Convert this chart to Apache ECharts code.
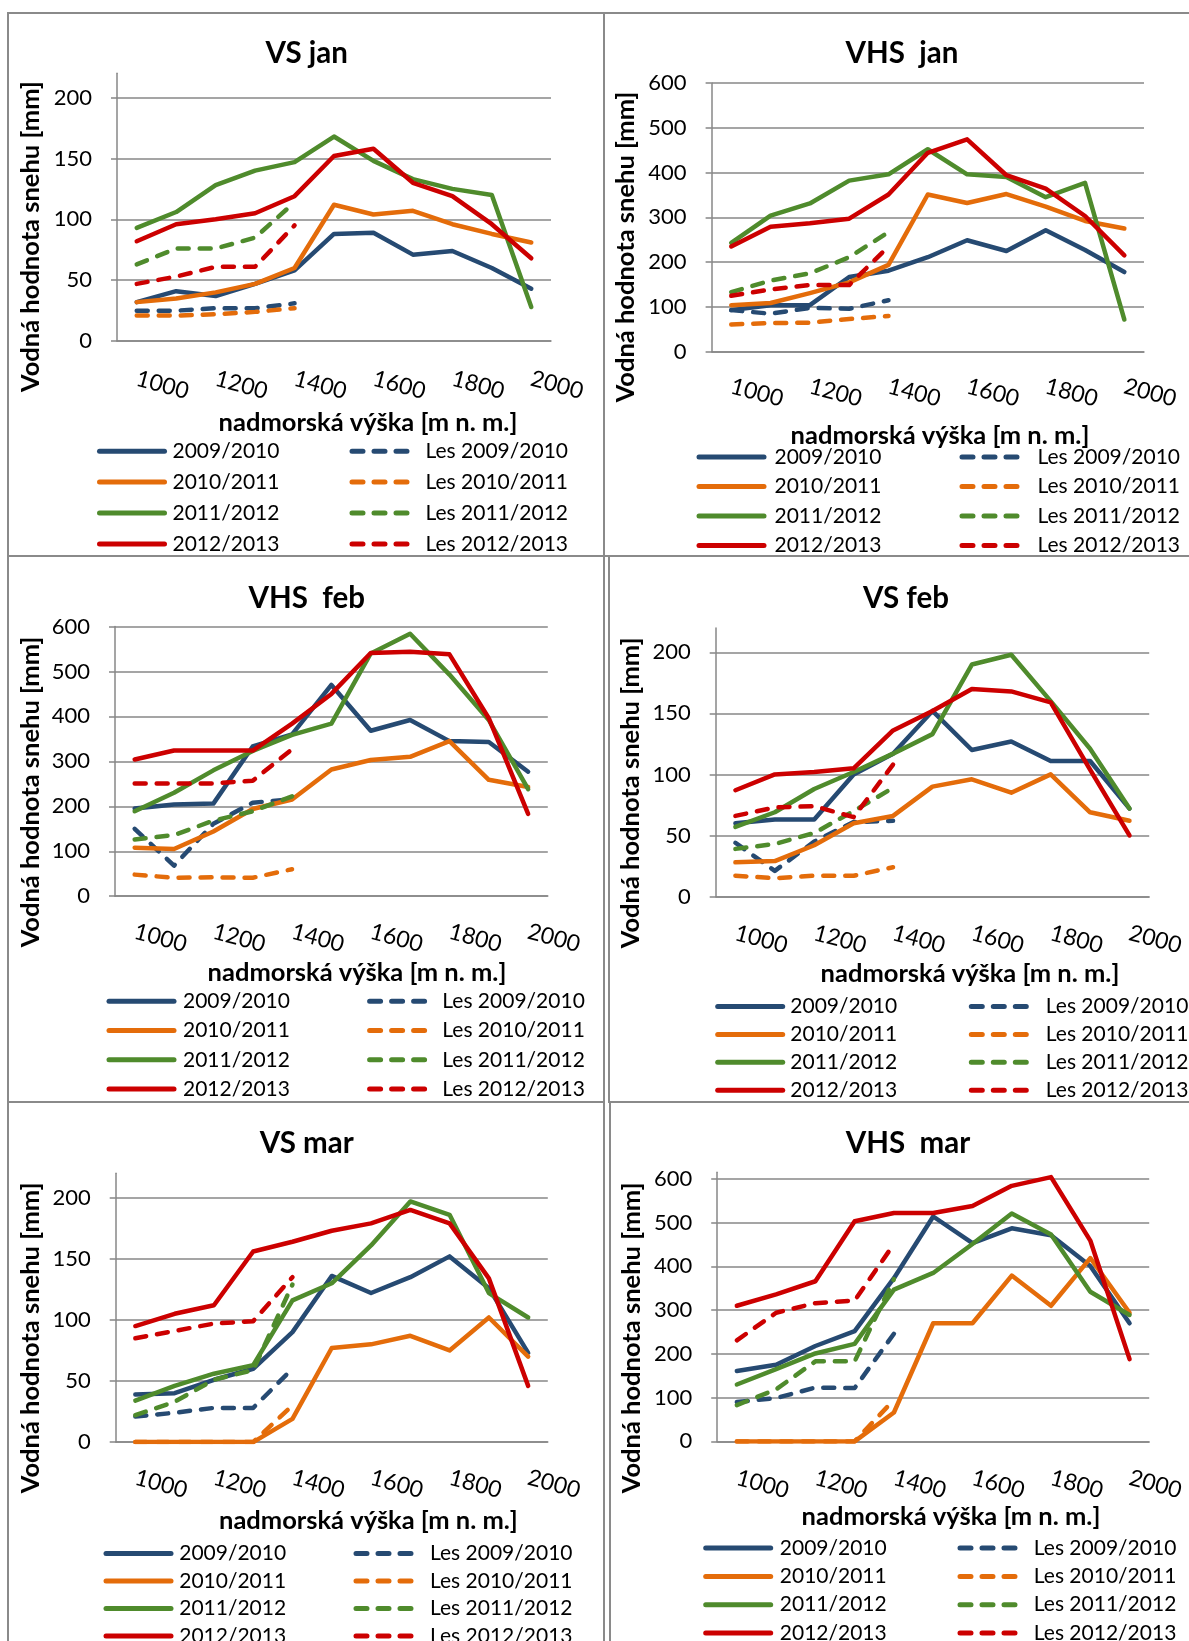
<!DOCTYPE html>
<html>
<head>
<meta charset="utf-8">
<title>Vodná hodnota snehu</title>
<style>
    html, body { margin: 0; padding: 0; background: #fff; overflow: hidden; }
    #chart { width: 1189px; height: 1641px; }
</style>
<script src="https://cdn.jsdelivr.net/npm/echarts@6.0.0/dist/echarts.min.js"></script>
</head>
<body>
<div id="chart"></div>
<script>
// categories (nadmorská výška) and series names
const elevations = ['1000', '1100', '1200', '1300', '1400', '1500', '1600', '1700', '1800', '1900', '2000'];
const seasons = ['2009/2010', '2010/2011', '2011/2012', '2012/2013'];
const forestSeasons = ['Les 2009/2010', 'Les 2010/2011', 'Les 2011/2012', 'Les 2012/2013'];

// y tick labels
const vsTicks = [0, 50, 100, 150, 200];
const vhsTicks = [0, 100, 200, 300, 400, 500, 600];

// VS jan
const vsJanOpen = [
    [32, 41, 37, 47, 58, 88, 89, 71, 74, 60, 43],
    [32, 35, 40, 47, 60, 112, 104, 107, 96, 88, 81],
    [93, 106, 128, 140, 147, 168, 148, 133, 125, 120, 28],
    [82, 96, 100, 105, 119, 152, 158, 130, 119, 96, 68],
];
const vsJanForest = [
    [25, 25, 27, 27, 31],
    [21, 21, 22, 24, 27],
    [63, 76, 76, 85, 114],
    [47, 53, 61, 61, 95],
];

// VHS jan
const vhsJanOpen = [
    [93, 104, 104, 167, 181, 211, 249, 225, 271, 227, 178],
    [104, 109, 131, 155, 194, 351, 332, 352, 324, 292, 275],
    [243, 304, 331, 382, 396, 452, 396, 390, 345, 377, 72],
    [235, 279, 287, 297, 351, 444, 474, 394, 364, 303, 215],
];
const vhsJanForest = [
    [93, 85, 98, 96, 115],
    [61, 64, 65, 73, 80],
    [133, 159, 175, 211, 267],
    [125, 139, 149, 149, 235],
];

// VHS feb
const vhsFebOpen = [
    [195, 204, 206, 333, 360, 470, 368, 392, 345, 343, 277],
    [108, 105, 144, 194, 215, 282, 303, 310, 345, 259, 243],
    [189, 230, 280, 323, 359, 384, 540, 584, 493, 392, 238],
    [304, 324, 324, 324, 384, 450, 541, 544, 538, 396, 183],
];
const vhsFebForest = [
    [150, 68, 161, 208, 216],
    [48, 41, 42, 41, 60],
    [126, 136, 168, 189, 222],
    [251, 251, 251, 257, 327],
];

// VS feb
const vsFebOpen = [
    [60, 63, 63, 100, 117, 152, 120, 127, 111, 111, 72],
    [28, 29, 42, 60, 66, 90, 96, 85, 100, 69, 62],
    [57, 69, 88, 102, 117, 133, 190, 198, 160, 121, 72],
    [87, 100, 102, 105, 136, 152, 170, 168, 159, 104, 50],
];
const vsFebForest = [
    [44, 21, 45, 61, 62],
    [17, 15, 17, 17, 24],
    [39, 43, 52, 70, 89],
    [66, 73, 74, 65, 108],
];

// VS mar
const vsMarOpen = [
    [39, 40, 51, 60, 90, 136, 122, 135, 152, 126, 73],
    [0, 0, 0, 0, 19, 77, 80, 87, 75, 102, 70],
    [34, 46, 56, 63, 116, 130, 161, 197, 186, 122, 102],
    [95, 105, 112, 156, 164, 173, 179, 190, 179, 134, 46],
];
const vsMarForest = [
    [21, 24, 28, 28, 60],
    [0, 0, 0, 0, 30],
    [22, 33, 51, 59, 129],
    [85, 91, 97, 99, 135],
];

// VHS mar
const vhsMarOpen = [
    [161, 175, 218, 252, 373, 514, 453, 487, 471, 401, 270],
    [0, 0, 0, 0, 66, 270, 270, 379, 310, 419, 294],
    [130, 165, 201, 223, 347, 385, 451, 521, 473, 342, 289],
    [310, 336, 366, 503, 522, 522, 538, 584, 604, 459, 188],
];
const vhsMarForest = [
    [90, 99, 123, 122, 246],
    [0, 0, 0, 0, 95],
    [83, 119, 183, 183, 371],
    [231, 294, 316, 322, 451],
];

const FONT = 'Lato, "Noto Sans", sans-serif';
const GRAY = '#878787';
const SEASON_COLOR = ['#264a72', '#e46c0a', '#4f8b2c', '#cc0000'];

// page layout of the six framed charts (absolute px)
const PANELS = [
    { title: 'VS jan', open: vsJanOpen, forest: vsJanForest, max: 220, step: 50, ticks: vsTicks,
      box: [7, 12, 598, 545], grid: [117, 73.2, 434, 267.9], titleAt: [306.7, 53.6],
      xNameAt: [368, 423], yNameAt: [31, 236.6], margin: 37,
      leg: { c1: [94.5, 170], c2: [347, 423], row0: 450.7, step: 29.9 } },
    { title: 'VHS  jan', open: vhsJanOpen, forest: vhsJanForest, max: 600, step: 100, ticks: vhsTicks,
      box: [603, 12, 600, 545], grid: [711.6, 82.9, 432.4, 268.9], titleAt: [902, 53.6],
      xNameAt: [940, 435.7], yNameAt: [626, 247], margin: 34,
      leg: { c1: [694, 772], c2: [957, 1035], row0: 456.4, step: 28.5 } },
    { title: 'VHS  feb', open: vhsFebOpen, forest: vhsFebForest, max: 600, step: 100, ticks: vhsTicks,
      box: [7, 555, 598, 548], grid: [115, 626.5, 432.8, 269.7], titleAt: [306.7, 598],
      xNameAt: [357, 972.7], yNameAt: [31, 792], margin: 35,
      leg: { c1: [104, 180.5], c2: [364.6, 439.8], row0: 1000.7, step: 28.3 } },
    { title: 'VS feb', open: vsFebOpen, forest: vsFebForest, max: 220, step: 50, ticks: vsTicks,
      box: [608, 555, 600, 548], grid: [715.7, 627.9, 433.5, 268.6], titleAt: [906, 598],
      xNameAt: [970, 973.7], yNameAt: [630.8, 792.9], margin: 36,
      leg: { c1: [712.7, 787.8], c2: [966.3, 1043.3], row0: 1006, step: 26.9 } },
    { title: 'VS mar', open: vsMarOpen, forest: vsMarForest, max: 220, step: 50, ticks: vsTicks,
      box: [7, 1101, 598, 600], grid: [115.7, 1173.3, 432.1, 268.8], titleAt: [306.7, 1143.7],
      xNameAt: [368.4, 1520.5], yNameAt: [31, 1337.9], margin: 35,
      leg: { c1: [101, 176.7], c2: [351, 427.5], row0: 1552.9, step: 26.5 } },
    { title: 'VHS  mar', open: vhsMarOpen, forest: vhsMarForest, max: 615, step: 100, ticks: vhsTicks,
      box: [609, 1101, 600, 600], grid: [717.2, 1172.3, 432, 269.1], titleAt: [908, 1143.7],
      xNameAt: [951, 1516.3], yNameAt: [632, 1337.9], margin: 36,
      leg: { c1: [700.7, 777.3], c2: [955, 1031.3], row0: 1547.6, step: 27.3 } },
];

function legendColumn(names, col, row0, step, dashed) {
    const iconW = dashed ? 55 : 65;
    const left = col[0] + 2.5;   // round cap sticks out by half the width
    return {
        data: names,
        orient: 'vertical',
        left: left,
        top: row0 - 10,
        height: 200,   // keep all four rows in one column, even at the page bottom
        padding: 0,
        itemWidth: iconW,
        itemHeight: 14,
        itemGap: step - 20,
        selectedMode: false,
        lineStyle: { width: 5 },
        itemStyle: { opacity: 0 },
        textStyle: {
            fontFamily: FONT, fontSize: 21, color: '#000', lineHeight: 20,
            padding: [0, 0, 0, Math.max(0, col[1] - (left + iconW + 5))],
        },
    };
}

function panelSeries(p, i) {
    const out = [];
    seasons.forEach((s, k) => {
        out.push({
            name: s, type: 'line', xAxisIndex: i, yAxisIndex: i,
            data: p.open[k], symbol: 'none',
            itemStyle: { color: SEASON_COLOR[k] },
            lineStyle: { color: SEASON_COLOR[k], width: 4.5, cap: 'round', join: 'round' },
            emphasis: { disabled: true },
        });
        out.push({
            name: forestSeasons[k], type: 'line', xAxisIndex: i, yAxisIndex: i,
            data: p.forest[k], symbol: 'none',
            itemStyle: { color: SEASON_COLOR[k] },
            lineStyle: { color: SEASON_COLOR[k], width: 4.5, type: [11, 11], cap: 'round', join: 'round' },
            emphasis: { disabled: true },
        });
    });
    return out;
}

function panelGraphics(p) {
    const [bx, by, bw, bh] = p.box;
    return [
        { type: 'rect', silent: true, shape: { x: bx + 1, y: by + 1, width: bw - 2, height: bh - 2 },
          style: { fill: 'none', stroke: '#8a8a8a', lineWidth: 2 } },
        { type: 'text', silent: true, x: p.titleAt[0], y: p.titleAt[1],
          style: { text: p.title, align: 'center', verticalAlign: 'middle', fill: '#000',
                   fontFamily: FONT, fontWeight: 'bold', fontSize: 29.5 } },
        { type: 'text', silent: true, x: p.xNameAt[0], y: p.xNameAt[1],
          style: { text: 'nadmorská výška [m n. m.]', align: 'center', verticalAlign: 'middle', fill: '#000',
                   fontFamily: FONT, fontWeight: 'bold', fontSize: 25.5 } },
        { type: 'text', silent: true, x: p.yNameAt[0], y: p.yNameAt[1], rotation: Math.PI / 2,
          style: { text: 'Vodná hodnota snehu [mm]', align: 'center', verticalAlign: 'middle', fill: '#000',
                   fontFamily: FONT, fontWeight: 'bold', fontSize: 25.5 } },
    ];
}

const chart = echarts.init(document.getElementById('chart'));
chart.setOption({
    animation: false,
    backgroundColor: '#fff',
    grid: PANELS.map(p => ({ left: p.grid[0], top: p.grid[1], width: p.grid[2], height: p.grid[3] })),
    xAxis: PANELS.map((p, i) => ({
        gridIndex: i,
        type: 'category',
        data: elevations,
        boundaryGap: true,
        axisLine: { show: true, lineStyle: { color: GRAY, width: 1.5 } },
        axisTick: { show: false },
        axisLabel: { interval: 1, rotate: -15, margin: p.margin, fontSize: 23, color: '#000', fontFamily: FONT },
        splitLine: { show: false },
    })),
    yAxis: PANELS.map((p, i) => ({
        gridIndex: i,
        type: 'value',
        min: 0,
        max: p.max,
        interval: p.step,
        axisLine: { show: true, lineStyle: { color: GRAY, width: 1.5 } },
        axisTick: { show: true, length: 6, customValues: p.ticks, lineStyle: { color: GRAY, width: 1.5 } },
        axisLabel: { margin: 25, fontSize: 22, color: '#000', fontFamily: FONT, customValues: p.ticks },
        splitLine: { show: true, lineStyle: { color: GRAY, width: 1.5 } },
    })),
    legend: PANELS.flatMap(p => [
        legendColumn(seasons, p.leg.c1, p.leg.row0, p.leg.step, false),
        legendColumn(forestSeasons, p.leg.c2, p.leg.row0, p.leg.step, true),
    ]),
    series: PANELS.flatMap((p, i) => panelSeries(p, i)),
    graphic: { elements: PANELS.flatMap(p => panelGraphics(p)) },
});
</script>
</body>
</html>
